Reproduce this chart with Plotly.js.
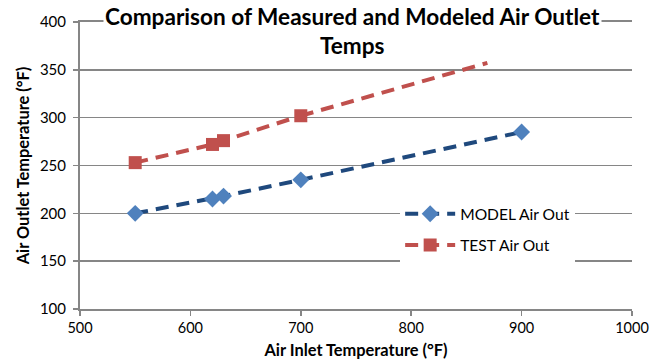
<!DOCTYPE html>
<html>
<head>
<meta charset="utf-8">
<script src="https://cdn.plot.ly/plotly-3.0.1.min.js"></script>
<style>html,body{margin:0;padding:0;background:#fff;}#chart{width:654px;height:364px;}</style>
</head>
<body>
<div id="chart"></div>
<script>
const chartTitle = "Comparison of Measured and Modeled Air Outlet<br>Temps";
const xTitle = "Air Inlet Temperature (°F)";
const yTitle = "Air Outlet Temperature (°F)";
const modelName = "MODEL Air Out";
const testName = "TEST Air Out";
const modelX = [550, 620, 630, 700, 900];
const modelY = [200, 215, 218, 235, 285];
const testX = [550, 620, 630, 700];
const testY = [253, 272, 276, 302];
const testForecastEnd = [869];   // x where the TEST trend line stops

function slope(xs, ys) {
  const n = xs.length;
  const mx = xs.reduce((a, b) => a + b, 0) / n;
  const my = ys.reduce((a, b) => a + b, 0) / n;
  let sxy = 0, sxx = 0;
  for (let i = 0; i < n; i++) { sxy += (xs[i] - mx) * (ys[i] - my); sxx += (xs[i] - mx) ** 2; }
  return sxy / sxx;
}
const tSlope = slope(testX, testY);
const lastX = testX[testX.length - 1], lastY = testY[testY.length - 1];
const extX = [lastX, testForecastEnd[0]];
const extY = [lastY, lastY + tSlope * (testForecastEnd[0] - lastX)];

const blueLine = "#1F497D", blueMarker = "#4F81BD", red = "#C0504D";
const dashPat = "13px,8px";
const font = "Lato, Calibri, 'Open Sans', sans-serif";

const data = [
  {x: extX, y: extY, mode: "lines", showlegend: false, hoverinfo: "skip",
   line: {color: red, width: 4, dash: dashPat}},
  {x: modelX, y: modelY, name: modelName, mode: "lines+markers", legendgroup: "a",
   line: {color: blueLine, width: 4, dash: dashPat},
   marker: {symbol: "diamond", size: 13, color: blueMarker}},
  {x: testX, y: testY, name: testName, mode: "lines+markers", legendgroup: "b",
   line: {color: red, width: 4, dash: dashPat},
   marker: {symbol: "square", size: 13, color: red}}
];

const layout = {
  width: 654, height: 364,
  margin: {l: 80, r: 22, t: 22, b: 55},
  paper_bgcolor: "#fff", plot_bgcolor: "#fff",
  font: {family: font, size: 14, color: "#000"},
  showlegend: true,
  legend: {x: 0.58, y: 0.39, xanchor: "left", yanchor: "top", bgcolor: "#fff",
           font: {size: 15.6, family: font}, tracegroupgap: 8, traceorder: "grouped",
           itemwidth: 50},
  xaxis: {range: [500, 1000], dtick: 100, tick0: 500, showgrid: false, zeroline: false,
          showline: true, mirror: true, linecolor: "#868686", linewidth: 2,
          ticks: "outside", ticklen: 5, tickcolor: "#868686", tickwidth: 1.5,
          tickfont: {size: 14.5, family: font},
          title: {text: xTitle, font: {size: 16.4, family: font, weight: "bold"}, standoff: 9}},
  yaxis: {range: [100, 400], dtick: 50, tick0: 100, showgrid: true, gridcolor: "#868686", gridwidth: 1.5,
          zeroline: false, showline: true, linecolor: "#868686", linewidth: 2,
          ticks: "outside", ticklen: 5, tickcolor: "#868686", tickwidth: 1.5,
          ticklabelstandoff: 4,
          tickfont: {size: 15, family: font},
          title: {text: yTitle, font: {size: 16.4, family: font, weight: "bold"}, standoff: 6}},
  annotations: [{
    text: "<b>" + chartTitle + "</b>", xref: "paper", yref: "paper",
    x: 0.493, y: 1.072, xanchor: "center", yanchor: "top", showarrow: false,
    bgcolor: "#fff", borderpad: 1,
    font: {size: 22.6, family: font, color: "#000"}
  }]
};

Plotly.newPlot("chart", data, layout, {displayModeBar: false, staticPlot: true});
</script>
</body>
</html>
